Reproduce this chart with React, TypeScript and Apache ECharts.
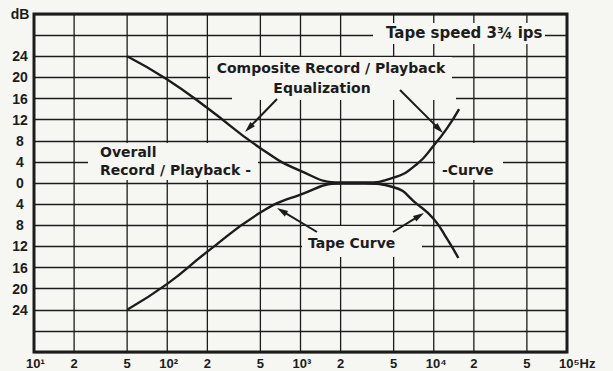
import React, { useEffect, useRef } from 'react';
import * as echarts from 'echarts';

// Vertical grid positions (Hz) and their labels
const gridFreqs = [10, 20, 50, 100, 200, 500, 1000, 2000, 5000, 10000, 20000, 50000, 100000];
const gridLabels = ['10¹', '2', '5', '10²', '2', '5', '10³', '2', '5', '10⁴', '2', '5', '10⁵Hz'];

// Composite (overall record/playback) equalization curve
const compositeFreq = [50, 100, 200, 500, 1000, 2000, 3000, 5000, 7500, 10000, 12600, 15500];
const compositeDb = [24, 19.6, 14.2, 6.6, 2.3, 0.1, 0.1, 1.0, 3.6, 7.1, 10.4, 14];

// Tape curve
const tapeFreq = [50, 100, 200, 500, 1000, 2000, 3000, 5000, 7500, 10000, 12600, 15300];
const tapeDb = [-24, -19.1, -13.0, -5.6, -2.2, -0.1, -0.1, -0.8, -4.0, -6.8, -10.6, -14.2];

const INK = '#1c1c1c';
const PAPER = '#f6f6f3';
const LABEL_FONT = '"DejaVu Sans", sans-serif';

function arrow(x1: number, y1: number, x2: number, y2: number) {
  const dx = x2 - x1;
  const dy = y2 - y1;
  const len = Math.sqrt(dx * dx + dy * dy);
  const ux = dx / len;
  const uy = dy / len;
  const hl = 11;
  const hw = 3.2;
  const bx = x2 - ux * hl;
  const by = y2 - uy * hl;
  return [
    {
      type: 'line',
      z: 6,
      shape: { x1, y1, x2: bx + ux * 2, y2: by + uy * 2 },
      style: { stroke: INK, lineWidth: 2 },
    },
    {
      type: 'polygon',
      z: 6,
      shape: {
        points: [
          [x2, y2],
          [bx - uy * hw, by + ux * hw],
          [bx + uy * hw, by - ux * hw],
        ],
      },
      style: { fill: INK },
    },
  ];
}

function mask(x: number, y: number, w: number, h: number) {
  return { type: 'rect', z: 5, shape: { x, y, width: w, height: h }, style: { fill: PAPER } };
}

function label(text: string, x: number, y: number, align: string = 'left', size: number = 14) {
  return {
    type: 'text',
    z: 6,
    x,
    y,
    style: {
      text,
      fill: INK,
      font: `bold ${size}px ${LABEL_FONT}`,
      align,
      verticalAlign: 'middle',
    },
  };
}

export default function App() {
  const ref = useRef<HTMLDivElement>(null);

  useEffect(() => {
    if (!ref.current) return;
    const chart = echarts.init(ref.current, undefined, { renderer: 'svg' });

    const option: any = {
      animation: false,
      backgroundColor: PAPER,
      grid: {
        left: 34,
        right: 46,
        top: 14,
        bottom: 19,
        show: true,
        borderWidth: 3,
        borderColor: INK,
        backgroundColor: 'transparent',
        z: 8,
      },
      xAxis: {
        type: 'log',
        logBase: 10,
        min: 10,
        max: 100000,
        axisLine: { show: false },
        axisTick: { show: false },
        axisLabel: { show: false },
        splitLine: { show: false },
        z: 0,
      },
      yAxis: {
        type: 'value',
        min: -32,
        max: 32,
        interval: 4,
        z: 0,
        axisLine: { show: false },
        axisTick: { show: false },
        splitLine: { show: true, lineStyle: { color: INK, width: 1.3 } },
        axisLabel: {
          margin: 14,
          align: 'center',
          color: INK,
          fontWeight: 'bold',
          fontSize: 14,
          fontFamily: '"Liberation Sans", sans-serif',
          showMaxLabel: true,
          formatter: (v: number) => {
            if (v === 32) return 'dB';
            return Math.abs(v) <= 24 ? String(Math.abs(v)) : '';
          },
        },
      },
      graphic: [
        mask(373, 23, 172, 21),
        mask(210, 57, 242, 22),
        mask(232, 79, 224, 21),
        mask(88, 143, 170, 37),
        mask(435, 143, 68, 37),
        mask(302, 226, 120, 31),
        label('Tape speed 3¾ ips', 386, 33, 'left', 15),
        label('Composite Record / Playback', 331, 68, 'center'),
        label('Equalization', 322, 88, 'center'),
        label('Overall', 100, 152),
        label('Record / Playback -', 100, 170),
        label('-Curve', 442, 170),
        label('Tape Curve', 308, 243),
        ...arrow(277, 99, 245, 132),
        ...arrow(400, 90, 443, 133),
        ...arrow(317, 232, 277, 208),
        ...arrow(393, 232, 424, 213),
      ],
      series: [
        {
          type: 'custom',
          silent: true,
          clip: false,
          z: 1,
          data: gridFreqs.map((f, i) => [f, i]),
          renderItem: (params: any, api: any) => {
            const f = api.value(0);
            const i = api.value(1);
            const top = api.coord([f, 32]);
            const bot = api.coord([f, -32]);
            const txt = gridLabels[i];
            const isPow = txt.startsWith('10');
            const children: any[] = [];
            if (i > 0 && i < gridFreqs.length - 1) {
              children.push({
                type: 'line',
                shape: { x1: top[0], y1: top[1], x2: bot[0], y2: bot[1] },
                style: { stroke: INK, lineWidth: 1.3 },
              });
            }
            children.push({
              type: 'text',
              x: isPow ? bot[0] - 8 : bot[0],
              y: bot[1] + 5,
              style: {
                text: txt,
                fill: INK,
                font: 'bold 13px "Liberation Sans", sans-serif',
                align: isPow ? 'left' : 'center',
                verticalAlign: 'top',
              },
            });
            return { type: 'group', children };
          },
        },
        {
          type: 'line',
          name: 'Composite Record/Playback Equalization',
          data: compositeFreq.map((f, i) => [f, compositeDb[i]]),
          smooth: 0.5,
          symbol: 'none',
          showSymbol: false,
          lineStyle: { color: INK, width: 2.4 },
          z: 10,
        },
        {
          type: 'line',
          name: 'Tape Curve',
          data: tapeFreq.map((f, i) => [f, tapeDb[i]]),
          smooth: 0.5,
          symbol: 'none',
          showSymbol: false,
          lineStyle: { color: INK, width: 2.4 },
          z: 10,
        },
      ],
    };

    chart.setOption(option);
    return () => chart.dispose();
  }, []);

  return (
    <div
      ref={ref}
      style={{ position: 'fixed', left: 0, top: 0, width: 613, height: 371 }}
    />
  );
}
